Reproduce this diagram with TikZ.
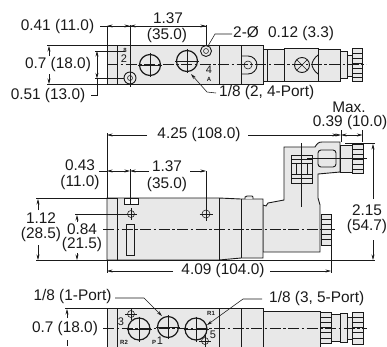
\documentclass[tikz,border=0pt]{standalone}
\usepackage{fontspec}
\setmainfont{Liberation Sans}
\usetikzlibrary{arrows.meta}
\definecolor{bodygrey}{HTML}{E8E8E8}
\definecolor{ink}{HTML}{1A1A1A}
\tikzset{
 lab/.style={inner sep=0pt,text=ink,font=\fontsize{15.4}{17}\selectfont,align=center},
 tiny/.style={inner sep=0pt,text=ink,font=\fontsize{6}{7}\bfseries\selectfont},
 mid/.style={inner sep=0pt,text=ink,font=\fontsize{11}{12}\selectfont},
 obj/.style={draw=ink,line width=0.9pt,fill=bodygrey},
 thick line/.style={draw=ink,line width=0.9pt},
 dim/.style={draw=ink,line width=0.55pt},
 arr/.style={dim,-{Stealth[length=5.5pt,width=3pt]}},
 cl/.style={draw=ink,line width=0.6pt,dash pattern=on 11pt off 2.5pt on 2.5pt off 2.5pt},
}
\newcommand{\cross}[3]{%
 \draw[dim] (#1,#2) circle[radius=#3];
 \draw[dim] (#1-#3-2.5,#2) -- (#1+#3+2.5,#2) (#1,#2-#3-2.5) -- (#1,#2+#3+2.5);}
\newcommand{\port}[3]{%
 \draw[thick line,line width=1.2pt] (#1,#2) circle[radius=#3];
 \draw[dim] (#1-#3-1.5,#2) -- (#1+#3+1.5,#2) (#1,#2-#3-1.5) -- (#1,#2+#3+1.5);}
\begin{document}
\begin{tikzpicture}[x=1pt,y=-1pt]
\useasboundingbox (0,0) rectangle (387,346);
\fill[white] (0,0) rectangle (387,346);
% ===== TOP VIEW =====
\draw[obj] (107,45) rectangle (263,84);
\draw[thick line] (117,45) -- (117,84) (219,45) -- (219,84) (241,45) -- (241,84);
\draw[obj] (263,49) rectangle (284,81);
\draw[thick line] (267,49) -- (267,81);
\draw[obj] (284,48) rectangle (318,81);
\draw[obj] (318,49) rectangle (340,81);
\draw[obj] (340,51) rectangle (347,78);
\draw[obj] (347,55) rectangle (352,76);
\draw[obj] (352,48) rectangle (362,81);
\foreach \y in {53,58,63,68,73,77} \draw[dim] (352,\y) -- (362,\y);
\draw[thick line] (241,56) -- (248,56) arc[start angle=-90,end angle=90,radius=9] -- (241,74);
\draw[dim] (248,65) circle[radius=4];
\draw[thick line] (302,65) circle[radius=7.5];
\draw[dim] (296.7,59.7) -- (307.3,70.3) (296.7,70.3) -- (307.3,59.7);
\draw[thick line] (318,55) .. controls (314,58) and (312,62) .. (312,64.5) .. controls (312,67) and (314,71) .. (318,74);
\draw[cl] (107,64.5) -- (366,64.5);
\port{150}{65}{10.5}
\port{187}{61}{10.5}
\draw[thick line,fill=bodygrey] (130,78) circle[radius=6];
\draw[dim] (130,78) circle[radius=2.5];
\draw[thick line,fill=bodygrey] (206,51) circle[radius=5.5];
\draw[dim] (206,51) circle[radius=2.5];
\draw[dim] (130,69) -- (130,87);
\node[tiny] (t8) at (125,50) {8};
\node[mid] (t2) at (124,59) {2};
\node[mid] (t4) at (209,70) {4};
\node[tiny] (tA) at (209,79) {A};
% top dims
\draw[dim] (47,45) -- (107,45) (47,84) -- (107,84);
\draw[dim] (107,27) -- (107,84) (130,25) -- (130,72) (206,25) -- (206,45);
\draw[dim] (100,26) -- (107,26);
\draw[dim] (107,26) -- (206,26);
\draw[arr] (118,26) -- (107,26);
\draw[arr] (118,26) -- (130,26);
\draw[arr] (142,26) -- (130,26);
\draw[arr] (195,26) -- (206,26);
\node[lab] (a) at (57.5,27) {0.41 (11.0)};
\node[lab] (b) at (168,18) {1.37};
\node[fill=white,lab] (c) at (167,36) {(35.0)};
\draw[arr] (49,56) -- (49,46);
\draw[arr] (49,74) -- (49,84);
\node[lab] (d) at (58,65) {0.7 (18.0)};
\draw[dim] (95,51) -- (125,51) (95,78.5) -- (124,78.5);
\node[lab] (e) at (48,96) {0.51 (13.0)};
\draw[dim] (91,95) -- (97,95) -- (97,78.5);
\draw[arr] (97,65) -- (97,51);
\draw[arr] (97,65) -- (97,78.5);
\node[lab,anchor=west] (f) at (233,34) {2-Ø\hspace{5pt} 0.12 (3.3)};
\draw[dim] (232,34) -- (215,34) -- (208,46);
\node[lab,anchor=west] (g) at (219,93) {1/8 (2, 4-Port)};
\draw[arr] (216,93) -- (207,92) -- (191,74);
% ===== MIDDLE VIEW =====
\draw[obj] (263,205) -- (266,206) -- (268,203) -- (284,200) -- (284,147) -- (315,147) .. controls (317,144) and (318,142) .. (322,142) -- (340,142) -- (340,172) -- (318,174) -- (318,198) -- (320,205) -- (320,252) -- (263,252) -- cycle;
\draw[obj] (107,198) -- (219,198) -- (241,199) -- (263,199) -- (263,258) -- (241,258) -- (219,260) -- (107,260) -- cycle;
\draw[thick line] (117,198) -- (117,260) (219,198) -- (219,260) (241,199) -- (241,258);
\draw[obj] (245,199) -- (245,197) -- (247,196) -- (252,196) -- (253,197) -- (253,199);
\draw[thick line,fill=bodygrey,rounded corners=3pt] (318,150) rectangle (336,167);
\draw[obj] (340,145) rectangle (352,172);
\draw[obj] (352,144) rectangle (363,173);
\foreach \y in {149,154,159,164,169} \draw[dim] (352,\y) -- (363,\y);
\draw[obj] (321,214) rectangle (331,245);
\foreach \y in {219,224,229,234,239} \draw[dim] (321,\y) -- (331,\y);
\draw[thick line] (291,155) rectangle (312,183);
\draw[dim] (291,163) -- (312,163) (291,174) -- (312,174) (291,159) -- (312,159) (291,178) -- (312,178);
\draw[thick line,fill=bodygrey] (296,163) rectangle (307,174);
\draw[dim] (301,143) -- (301,207);
\draw[dim] (307,158) -- (367,158);
\draw[thick line,fill=white] (124,198) rectangle (138,204);
\draw[thick line,fill=bodygrey] (126,224) rectangle (134,255);
\cross{131}{214}{3.5}
\cross{206}{214}{4}
\draw[dim] (130,169) -- (130,204);
\draw[dim] (206,171) -- (206,210);
\draw[cl] (103,229.5) -- (335,229.5);
% middle dims
\draw[dim] (36,198) -- (117,198) (36,260) -- (107,260);
\draw[dim] (107,133) -- (107,198) (107,260) -- (107,273);
\node[lab] (h) at (199,135) {4.25 (108.0)};
\draw[arr] (147,135) -- (107,135);
\draw[arr] (248,135) -- (338,135);
\node[lab] (i) at (80,165) {0.43};
\node[lab] (j) at (80,183) {(11.0)};
\draw[dim] (99,171) -- (107,171);
\draw[arr] (118,171) -- (107,171);
\draw[arr] (118,171) -- (130,171);
\draw[arr] (149,171) -- (130,171);
\draw[arr] (190,171) -- (206,171);
\node[lab] (k) at (167,166) {1.37};
\node[lab] (l) at (167,185) {(35.0)};
\node[lab] (m) at (41,218) {1.12};
\node[lab] (n) at (41,235) {(28.5)};
\draw[arr] (38,210) -- (38,199);
\draw[arr] (38,245) -- (38,260);
\draw[dim] (75,214) -- (125,214);
\node[lab,fill=white,inner ysep=0.5pt] (o) at (82,229) {0.84};
\node[lab] (p) at (82,245) {(21.5)};
\draw[arr] (77,222) -- (77,215);
\draw[arr] (77,253) -- (77,260);
\draw[dim] (341,130) -- (341,142) (362.5,130) -- (362.5,142);
\draw[arr] (322,135) -- (341,135);
\draw[arr] (352,135) -- (341,135);
\draw[arr] (352,135) -- (362.5,135);
\node[lab] (q) at (349,107) {Max.};
\node[lab] (r) at (350,123) {0.39 (10.0)};
\draw[dim] (345,143) -- (375,143) (107,260) -- (375,260);
\node[lab] (s) at (367,210) {2.15};
\node[lab] (t) at (367,227) {(54.7)};
\draw[arr] (373,199) -- (373,144);
\draw[arr] (373,240) -- (373,260);
\node[lab] (u) at (223,271) {4.09 (104.0)};
\draw[dim] (331,230) -- (331,273);
\draw[arr] (173,271) -- (107,271);
\draw[arr] (270,271) -- (331,271);
% ===== BOTTOM VIEW =====
\begin{scope}
\clip (0,280) rectangle (387,346);
\draw[obj] (107,308) rectangle (263,350);
\draw[thick line] (117,308) -- (117,350) (219,308) -- (219,350) (241,308) -- (241,350);
\draw[obj] (263,311) rectangle (320,350);
\draw[obj] (320,312) rectangle (331,343);
\foreach \y in {317,322,327,332,338} \draw[dim] (320,\y) -- (331,\y);
\draw[obj] (331,314) rectangle (340,341);
\draw[obj] (340,313) rectangle (347,342);
\draw[obj] (347,317) rectangle (352,339);
\draw[obj] (352,312) rectangle (363,344);
\foreach \y in {317,322,327,332,338} \draw[dim] (352,\y) -- (363,\y);
\end{scope}
\draw[cl] (103,328) -- (367,328);
\port{139}{329}{11}
\port{168}{327}{10.5}
\port{196}{329}{11}
\cross{131}{314}{3.5}
\cross{205}{341}{3.5}
\node[mid] (u3) at (121,322) {3};
\node[tiny] (r2) at (124,342) {R2};
\node[tiny] (p1a) at (154,342) {P};
\node[mid] (p1b) at (160,341) {1};
\node[tiny] (r1) at (211,313) {R1};
\node[mid] (u5) at (213,335) {5};
\draw[dim] (65,308) -- (107,308);
\node[lab] (v) at (72.5,297) {1/8 (1-Port)};
\draw[arr] (115,298) -- (144,298) -- (162,316);
\node[lab,anchor=west] (w) at (269,299) {1/8 (3, 5-Port)};
\draw[arr] (262,299) -- (243,299) -- (207,325);
\node[lab] (x) at (65,329) {0.7 (18.0)};
\draw[arr] (67,318) -- (67,309);
\draw[dim] (67,340) -- (67,346);
\end{tikzpicture}
\end{document}
